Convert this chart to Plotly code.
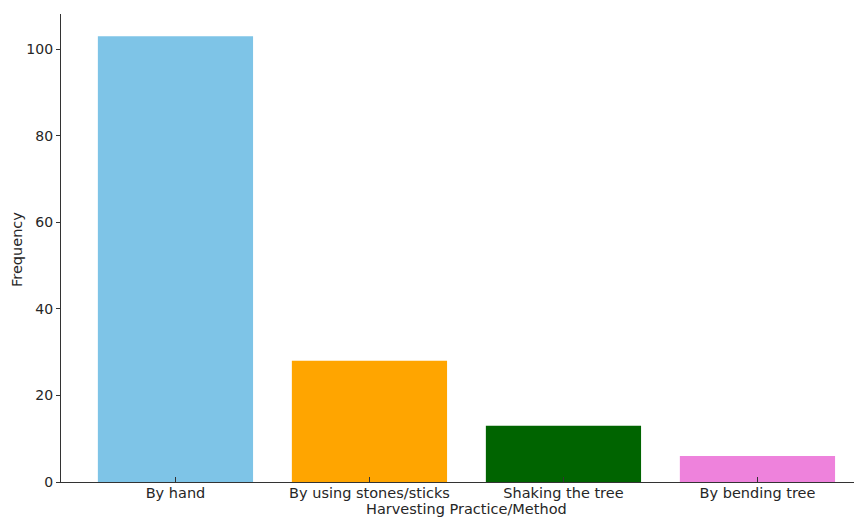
import plotly.graph_objects as go

categories = ["By hand", "By using stones/sticks", "Shaking the tree", "By bending tree"]
frequencies = [103, 28, 13, 6]
colors = ["#7EC4E7", "#FFA500", "#006400", "#EE82DC"]

# The page body has an 8px default margin; compensate so the plot area sits where the reference has it.
OFF = 8
W, H = 862, 519
L, T, B = 61 - OFF, 14 - OFF, H - (482 - OFF)
R = 0

fig = go.Figure()
fig.add_trace(go.Bar(
    x=list(range(len(categories))),
    y=frequencies,
    width=0.8,
    marker=dict(color=colors, line=dict(width=0)),
))

tick_font = dict(family="DejaVu Sans", size=14, color="#262626")
xtick_font = dict(family="DejaVu Sans", size=14.5, color="#262626")
title_font = dict(family="DejaVu Sans", size=14.5, color="#262626")

plot_w = W - L - R
plot_h = H - T - B
px_per_unit = 194.0
x0 = -0.59
x1 = x0 + plot_w / px_per_unit

fig.update_layout(
    width=W, height=H,
    margin=dict(l=L, r=R, t=T, b=B, pad=0),
    paper_bgcolor="white", plot_bgcolor="white",
    showlegend=False,
    xaxis=dict(
        tickmode="array",
        tickvals=list(range(len(categories))),
        ticktext=categories,
        tickfont=xtick_font,
        range=[x0, x1],
        showline=True, linecolor="#333333", linewidth=1.2,
        ticks="inside", ticklen=5, tickcolor="#333333",
        ticklabelstandoff=-3,
        showgrid=False, zeroline=False,
        automargin=False,
    ),
    yaxis=dict(
        range=[0, 108.15],
        tickvals=[0, 20, 40, 60, 80, 100],
        tickfont=tick_font,
        showline=True, linecolor="#333333", linewidth=1.2,
        ticks="outside", ticklen=4, tickcolor="#333333",
        showgrid=False, zeroline=False,
        automargin=False,
    ),
    annotations=[
        dict(text="Harvesting Practice/Method",
             x=(467 - 61) / plot_w, y=-(509 - 482) / plot_h,
             xref="paper", yref="paper", xanchor="center", yanchor="middle",
             showarrow=False, font=title_font),
        dict(text="Frequency",
             x=-(61 - 17) / plot_w, y=(482 - 250) / plot_h,
             xref="paper", yref="paper", xanchor="center", yanchor="middle",
             textangle=-90, showarrow=False, font=title_font),
    ],
)

fig.write_html("out.html")
